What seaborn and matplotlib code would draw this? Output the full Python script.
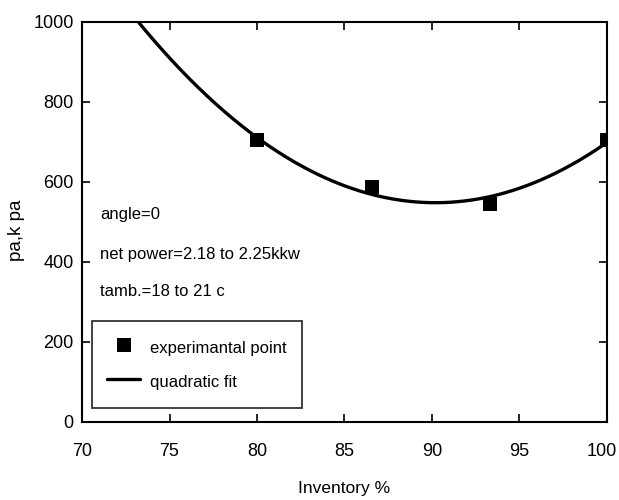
import numpy as np
import pandas as pd
import matplotlib
matplotlib.use("Agg")
import matplotlib.pyplot as plt
import matplotlib.transforms as mtransforms
import seaborn as sns

# Data
inventory = [80.0, 86.6, 93.3, 100.0]
pressure = [705, 587, 545, 705]
x_ticks = [70, 75, 80, 85, 90, 95, 100]
y_ticks = [0, 200, 400, 600, 800, 1000]
notes = ["angle=0", "net power=2.18 to 2.25kkw", "tamb.=18 to 21 c"]

sns.set_theme(style="white")
plt.rcParams['font.family'] = ['Liberation Sans', 'DejaVu Sans']
plt.rcParams['text.color'] = 'black'
plt.rcParams['axes.labelcolor'] = 'black'

df = pd.DataFrame({"Inventory %": inventory, "pa,k pa": pressure})
coef = np.polyfit(inventory, pressure, 2)
xf = np.linspace(70, 100, 300)
fit = pd.DataFrame({"x": xf, "y": np.polyval(coef, xf)})

fig = plt.figure(figsize=(6.19, 5.0), dpi=100)
ax = fig.add_axes([0.1325, 0.156, 0.848, 0.8])

sns.lineplot(data=fit, x="x", y="y", ax=ax, color="black", linewidth=2.4,
             label="quadratic fit", legend=False)
sns.scatterplot(data=df, x="Inventory %", y="pa,k pa", ax=ax, marker="s",
                s=90, color="black", edgecolor="black", linewidth=0,
                label="experimantal point", legend=False, zorder=5)

ax.set_xlim(70, 100)
ax.set_ylim(0, 1000)
ax.set_xticks(x_ticks)
ax.set_yticks(y_ticks)
ax.tick_params(direction="in", length=6, width=1.2, colors="black",
               labelsize=13, top=True, right=True, bottom=True, left=True)
ax.tick_params(axis="x", pad=15)
ax.tick_params(axis="y", pad=6)
for s in ax.spines.values():
    s.set_color("black")
    s.set_linewidth(1.5)
ax.set_xlabel("Inventory %", fontsize=12.5, labelpad=15, color="black")
ax.set_ylabel("pa,k pa", fontsize=13.5, color="black")
ax.yaxis.set_label_coords(-0.108, 0.48)

# nudge the last x tick label slightly left so it stays inside the figure
last = ax.get_xticklabels()[-1]
offset = mtransforms.ScaledTranslation(-5 / 100, 0, fig.dpi_scale_trans)
last.set_transform(last.get_transform() + offset)

ypos = [0.52, 0.42, 0.325]
for t, yp in zip(notes, ypos):
    ax.text(0.034, yp, t, transform=ax.transAxes, fontsize=12, va="center",
            ha="left", color="black")

h, l = ax.get_legend_handles_labels()
order = [l.index("experimantal point"), l.index("quadratic fit")]
leg = ax.legend([h[i] for i in order], [l[i] for i in order],
                loc="lower left", bbox_to_anchor=(0.019, 0.035),
                fontsize=12, frameon=True, fancybox=False, edgecolor="black",
                borderpad=0.9, handlelength=2.0, handleheight=1.7,
                labelspacing=0.7, borderaxespad=0, handletextpad=0.6,
                labelcolor="black")
leg.get_frame().set_linewidth(1.3)

fig.savefig("out.png", dpi=100)
